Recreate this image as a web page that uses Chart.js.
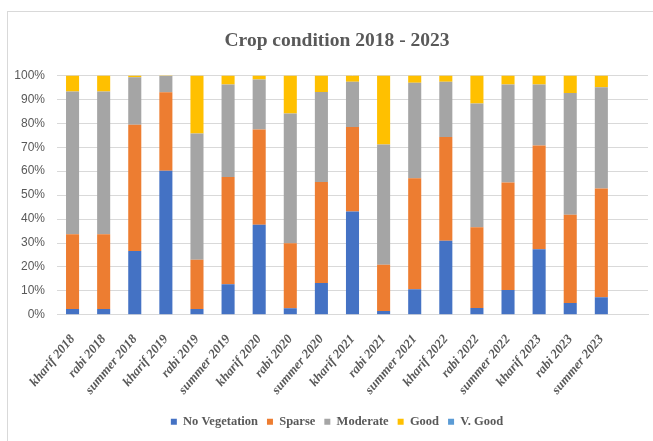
<!DOCTYPE html>
<html>
<head>
<meta charset="utf-8">
<script src="https://cdn.jsdelivr.net/npm/chart.js@4"></script>
<style>
	body { margin: 0; background: #fff; }
	#chartholder { width: 653px; height: 441px; }
</style>
</head>
<body>
<div id="chartholder">
	<canvas id="myChart" width="653" height="441"></canvas>
</div>
<script>
// seasons, last slot is left empty like the excel plot
const seasons = ["kharif 2018", "rabi 2018", "summer 2018", "kharif 2019", "rabi 2019", "summer 2019",
	"kharif 2020", "rabi 2020", "summer 2020", "kharif 2021", "rabi 2021", "summer 2021",
	"kharif 2022", "rabi 2022", "summer 2022", "kharif 2023", "rabi 2023", "summer 2023", ""];

// percent of area
const noVegetation = [2.5, 2.5, 26.7, 60.2, 2.5, 12.8, 37.6, 2.8, 13.3, 43.2, 1.6, 10.7, 31.0, 2.9, 10.4, 27.4, 5.0, 7.4];
const sparse = [31.2, 31.2, 52.7, 32.8, 20.5, 44.8, 39.8, 27.1, 42.2, 35.3, 19.3, 46.3, 43.3, 33.7, 44.9, 43.3, 36.8, 45.4];
const moderate = [59.6, 59.6, 19.8, 6.7, 52.7, 38.6, 20.9, 54.2, 37.6, 18.8, 50.2, 39.9, 23.0, 51.7, 40.9, 25.5, 50.9, 42.3];
const good = [6.7, 6.7, 0.8, 0.3, 24.3, 3.8, 1.7, 15.9, 6.9, 2.7, 28.9, 3.1, 2.7, 11.7, 3.8, 3.8, 7.3, 4.9];
const veryGood = [0, 0, 0, 0, 0, 0, 0, 0, 0, 0, 0, 0, 0, 0, 0, 0, 0, 0];

const textcolor = "#595959";
const gridcolor = "#d9d9d9";

// white page + the thin grey frame excel puts round a chart
const frame = {
	id: "frame",
	afterLayout(chart) {
		// y axis is squeezed so title/legend centre like excel; let its labels spill left
		chart.scales.y.left = 0;
	},
	beforeDraw(chart) {
		const c = chart.ctx;
		c.save();
		c.fillStyle = "#fff";
		c.fillRect(0, 0, chart.width, chart.height);
		c.strokeStyle = gridcolor;
		c.lineWidth = 1;
		c.strokeRect(7.5, 11.5, chart.width, chart.height);
		c.restore();
	}
};

function bars(label, values, color) {
	return {
		label: label,
		data: values,
		backgroundColor: color,
		borderWidth: 0,
		barPercentage: 0.42,
		categoryPercentage: 1
	};
}

var ctx = document.getElementById("myChart");
var myChart = new Chart(ctx, {
	type: "bar",
	data: {
		labels: seasons,
		datasets: [
			bars("No Vegetation", noVegetation, "#4472c4"),
			bars("Sparse", sparse, "#ed7d31"),
			bars("Moderate", moderate, "#a5a5a5"),
			bars("Good", good, "#ffc000"),
			bars("V. Good", veryGood, "#5b9bd5")
		]
	},
	options: {
		responsive: false,
		animation: false,
		layout: {
			padding: { top: 29, left: 26, right: 5, bottom: 3 }
		},
		plugins: {
			title: {
				display: true,
				text: "Crop condition 2018 - 2023",
				color: textcolor,
				font: { family: "Liberation Serif", size: 19.5, weight: "bold" },
				padding: { top: 0, bottom: 23 }
			},
			legend: {
				position: "bottom",
				labels: {
					color: textcolor,
					font: { family: "Liberation Serif", size: 12.5, weight: "bold" },
					boxWidth: 6,
					boxHeight: 6,
					padding: 9
				}
			},
			tooltip: { enabled: false }
		},
		scales: {
			x: {
				stacked: true,
				grid: { display: false },
				border: { display: true, color: gridcolor },
				ticks: {
					color: textcolor,
					font: { family: "Liberation Serif", size: 13, weight: "bold", style: "italic" },
					minRotation: 50,
					maxRotation: 50,
					autoSkip: false,
					padding: 9
				},
				afterFit: function (scale) {
					scale.paddingLeft = 0;
					scale.paddingRight = 0;
				}
			},
			y: {
				stacked: true,
				min: 0,
				max: 100,
				grid: { color: gridcolor, drawTicks: false },
				border: { display: false },
				ticks: {
					stepSize: 10,
					padding: 12,
					color: textcolor,
					font: { family: "Liberation Sans", size: 12 },
					callback: function (v) { return v + "%"; }
				},
				afterFit: function (scale) {
					scale.width = 31;
				}
			}
		}
	},
	plugins: [frame]
});
</script>
</body>
</html>
